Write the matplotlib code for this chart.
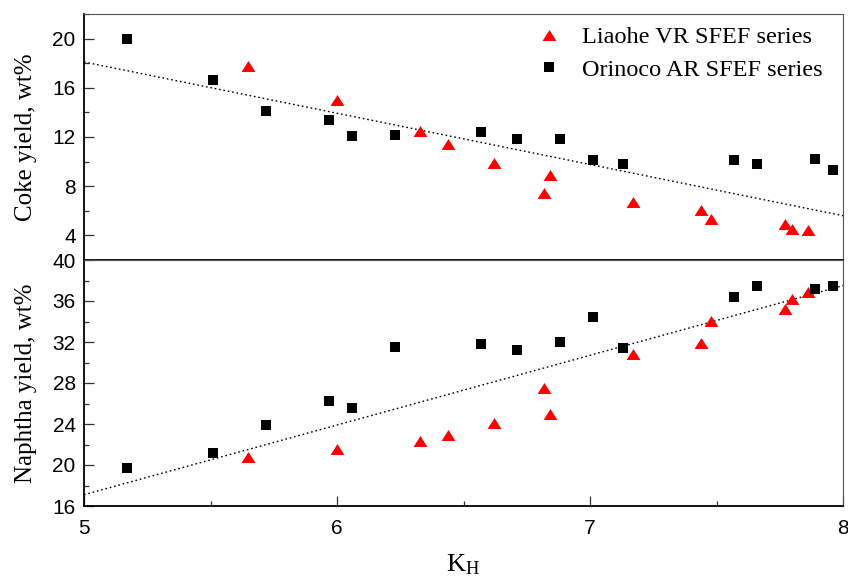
import numpy as np
import matplotlib
matplotlib.use("Agg")
import matplotlib.pyplot as plt
from matplotlib.ticker import MultipleLocator

plt.rcParams['mathtext.fontset'] = 'custom'
plt.rcParams['mathtext.rm'] = 'Liberation Serif'
plt.rcParams['mathtext.it'] = 'Liberation Serif'

# ---- data ----
orinoco_kh = [5.17, 5.51, 5.72, 5.97, 6.06, 6.23, 6.57, 6.71, 6.88, 7.01, 7.13, 7.57, 7.66, 7.89, 7.96]
orinoco_coke = [20.0, 16.6, 14.1, 13.4, 12.1, 12.2, 12.4, 11.8, 11.8, 10.1, 9.8, 10.1, 9.8, 10.2, 9.3]
orinoco_naphtha = [19.7, 21.2, 23.9, 26.2, 25.6, 31.5, 31.8, 31.2, 32.0, 34.4, 31.4, 36.4, 37.5, 37.2, 37.5]

liaohe_kh = [5.65, 6.00, 6.33, 6.44, 6.62, 6.82, 6.84, 7.17, 7.44, 7.48, 7.77, 7.80, 7.86]
liaohe_coke = [17.75, 15.0, 12.5, 11.4, 9.9, 7.45, 8.95, 6.7, 6.05, 5.35, 4.9, 4.5, 4.45]
liaohe_naphtha = [20.8, 21.6, 22.3, 22.9, 24.1, 27.5, 24.95, 30.8, 31.9, 34.05, 35.2, 36.15, 36.9]

trend_kh = [5.0, 8.0]
coke_trend = [18.1, 5.6]
naphtha_trend = [17.1, 37.5]

liaohe_label = "Liaohe VR SFEF series"
orinoco_label = "Orinoco AR SFEF series"

# ---- figure ----
fig = plt.figure(figsize=(8.48, 5.79), dpi=100)
L, R = 84 / 848, 843 / 848
H = 579
ax1 = fig.add_axes([L, 1 - 260 / H, R - L, (260 - 14) / H])
ax2 = fig.add_axes([L, 1 - 506 / H, R - L, (506 - 260) / H])

tri = [(0, 1), (-1.27, -1), (1.27, -1)]
serif = 'Liberation Serif'

for ax, oy, ly, ty in [(ax1, orinoco_coke, liaohe_coke, coke_trend),
                       (ax2, orinoco_naphtha, liaohe_naphtha, naphtha_trend)]:
    ax.plot(trend_kh, ty, linestyle=(0, (1.2, 2.0)), color='black', lw=1.0, zorder=1)
    ax.plot(liaohe_kh, ly, linestyle='none', marker=tri, ms=10, color='red',
            markeredgewidth=0, label=liaohe_label, zorder=3)
    ax.plot(orinoco_kh, oy, linestyle='none', marker='s', ms=7.6, color='black',
            markeredgewidth=0, label=orinoco_label, zorder=3)
    ax.set_xlim(5, 8)
    for sp in ['top', 'right']:
        ax.spines[sp].set_color('#555555')
        ax.spines[sp].set_linewidth(0.8)
    for sp in ['left', 'bottom']:
        ax.spines[sp].set_color('black')
        ax.spines[sp].set_linewidth(1.3)
    ax.tick_params(which='both', direction='in', right=False, top=False, color='#333333')
    ax.tick_params(which='major', length=7, width=0.9, pad=6)
    ax.tick_params(which='minor', length=3.5, width=0.9)

ax1.set_ylim(2, 22)
ax1.yaxis.set_major_locator(MultipleLocator(4))
ax1.yaxis.set_minor_locator(MultipleLocator(2))
ax1.set_yticks([4, 8, 12, 16, 20])
ax1.tick_params(axis='x', which='both', bottom=False, labelbottom=False)

ax2.set_ylim(16, 40)
ax2.yaxis.set_major_locator(MultipleLocator(4))
ax2.yaxis.set_minor_locator(MultipleLocator(2))
ax2.xaxis.set_major_locator(MultipleLocator(1))
ax2.xaxis.set_minor_locator(MultipleLocator(0.5))
ax2.tick_params(axis='x', which='major', pad=9)

for ax in (ax1, ax2):
    for lab in ax.get_yticklabels() + ax.get_xticklabels():
        lab.set_fontfamily('Liberation Sans')
        lab.set_fontsize(15)
        lab.set_clip_on(False)

ax1.set_ylabel('Coke yield, wt%', family=serif, fontsize=18, labelpad=11)
ax2.set_ylabel('Naphtha yield, wt%', family=serif, fontsize=18, labelpad=11)
ax2.set_xlabel(r'K$_\mathrm{H}$', family=serif, fontsize=19, labelpad=11)

leg = ax1.legend(loc='upper left', bbox_to_anchor=(530 / 848, 1 - 19 / H),
                 bbox_transform=fig.transFigure, frameon=False,
                 prop=dict(family=serif, size=17.5), numpoints=1,
                 handlelength=1.0, handletextpad=0.85, labelspacing=0.42,
                 borderpad=0.3, borderaxespad=0)

fig.savefig('out.png', dpi=100)
